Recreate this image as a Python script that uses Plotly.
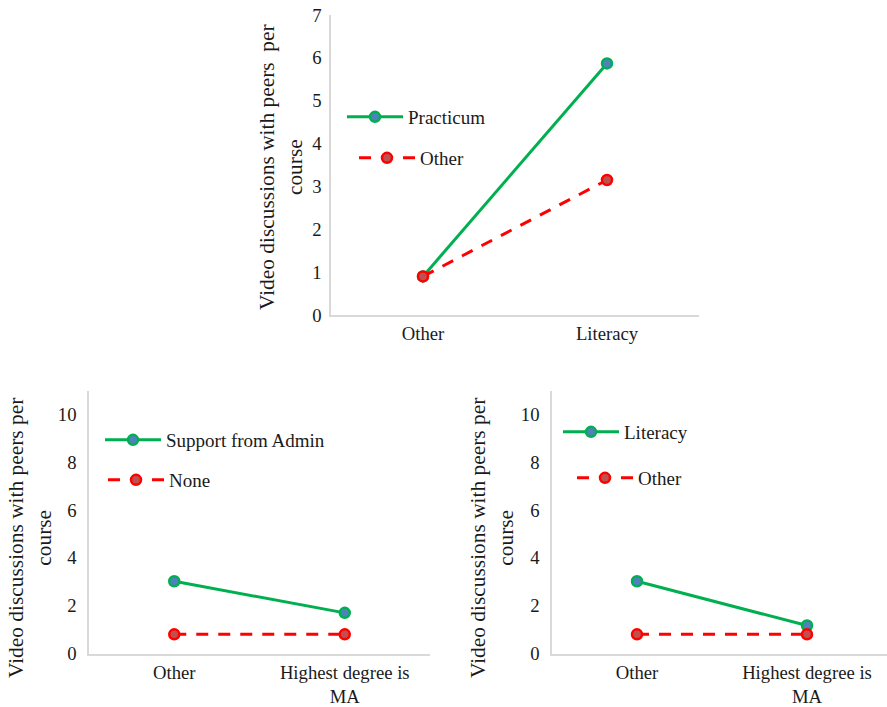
import plotly.graph_objects as go

W, H = 887, 707

# ---- data ----
top_categories = ["Other", "Literacy"]
top_practicum = [0.90, 5.87]
top_other = [0.90, 3.15]

bl_categories = ["Other", "Highest degree is<br>MA"]
bl_support_admin = [3.02, 1.70]
bl_none = [0.80, 0.80]

br_categories = ["Other", "Highest degree is<br>MA"]
br_literacy = [3.02, 1.17]
br_other = [0.80, 0.80]

top_yticks = [0, 1, 2, 3, 4, 5, 6, 7]
bottom_yticks = [0, 2, 4, 6, 8, 10]

GREEN = "#00B050"
BLUE = "#4F81BD"
RED = "#FF0000"
REDFILL = "#C0504D"
AXIS = "#D9D9D9"
FONT = "Liberation Serif, Times New Roman, serif"
TXT = "#1a1a1a"

def px_x(x):
    return x / W

def px_y(y):
    return 1 - y / H

fig = go.Figure()

def add_pair(xaxis, yaxis, cats, solid_vals, solid_name, dash_vals, dash_name, lg1, lg2):
    fig.add_trace(go.Scatter(
        x=cats, y=solid_vals, name=solid_name, mode="lines+markers",
        xaxis=xaxis, yaxis=yaxis, legend=lg1,
        line=dict(color=GREEN, width=3),
        marker=dict(size=10, color=BLUE, line=dict(color=GREEN, width=2.5)),
    ))
    fig.add_trace(go.Scatter(
        x=cats, y=dash_vals, name=dash_name, mode="lines+markers",
        xaxis=xaxis, yaxis=yaxis, legend=lg2,
        line=dict(color=RED, width=3, dash="12px,10px"),
        marker=dict(size=10, color=REDFILL, line=dict(color=RED, width=2.5)),
    ))

add_pair("x", "y", top_categories, top_practicum, "Practicum", top_other, "Other", "legend", "legend2")
add_pair("x2", "y2", bl_categories, bl_support_admin, "Support from Admin", bl_none, "None", "legend3", "legend4")
add_pair("x3", "y3", br_categories, br_literacy, "Literacy", br_other, "Other", "legend5", "legend6")

tickfont = dict(family=FONT, size=18.7, color=TXT)

def xax(domain, rng, anchor, standoff):
    return dict(domain=domain, range=rng, anchor=anchor, type="category",
                showline=True, linecolor=AXIS, linewidth=1.5, showgrid=False,
                zeroline=False, ticks="", tickfont=tickfont, ticklabelstandoff=standoff,
                automargin=False, fixedrange=True)

def yax(domain, rng, tickvals, anchor, standoff):
    return dict(domain=domain, range=rng, anchor=anchor, tickvals=tickvals,
                showline=True, linecolor=AXIS, linewidth=1.5, showgrid=False,
                zeroline=False, ticks="", tickfont=tickfont, ticklabelstandoff=standoff,
                automargin=False, fixedrange=True)

top_ydom = [px_y(315), px_y(15)]
bot_ydom = [px_y(653.5), px_y(390.5)]

legend_common = dict(font=dict(family=FONT, size=19, color=TXT), bgcolor="rgba(0,0,0,0)",
                     borderwidth=0, xanchor="left", yanchor="middle", itemwidth=56,
                     tracegroupgap=0)

def lg(x, y):
    d = dict(legend_common)
    d.update(x=px_x(x), y=px_y(y))
    return d

title_font = dict(family=FONT, size=21.4, color=TXT)
annotations = [
    dict(text="Video discussions with peers \u00a0per<br>course", x=px_x(281), y=px_y(167),
         xref="paper", yref="paper", showarrow=False, textangle=-90, font=title_font,
         xanchor="center", yanchor="middle"),
    dict(text="Video discussions with peers per<br>course", x=px_x(30), y=px_y(538),
         xref="paper", yref="paper", showarrow=False, textangle=-90, font=title_font,
         xanchor="center", yanchor="middle"),
    dict(text="Video discussions with peers per<br>course", x=px_x(492), y=px_y(538),
         xref="paper", yref="paper", showarrow=False, textangle=-90, font=title_font,
         xanchor="center", yanchor="middle"),
]

fig.update_layout(
    template="none",
    width=W, height=H, margin=dict(l=0, r=0, t=0, b=0, pad=0),
    paper_bgcolor="white", plot_bgcolor="white",
    font=dict(family=FONT, color=TXT),
    showlegend=True,
    xaxis=xax([px_x(331), px_x(699)], [-0.5, 1.5], "y", 1),
    yaxis=yax(top_ydom, [0, 7], top_yticks, "x", 4),
    xaxis2=xax([px_x(89), px_x(430)], [-0.5, 1.5], "y2", 1),
    yaxis2=yax(bot_ydom, [0, 11], bottom_yticks, "x2", 7),
    xaxis3=xax([px_x(552), 1], [-0.5, (887 - 552) / 170 - 0.5], "y3", 1),
    yaxis3=yax(bot_ydom, [0, 11], bottom_yticks, "x3", 7),
    legend=lg(342, 117),
    legend2=lg(354, 158),
    legend3=lg(100, 440),
    legend4=lg(103, 480),
    legend5=lg(558, 432),
    legend6=lg(572, 478),
    annotations=annotations,
)

fig.write_html("out.html", config={"displayModeBar": False},
               post_script="document.body.style.margin='0';document.body.style.overflow='hidden';")
